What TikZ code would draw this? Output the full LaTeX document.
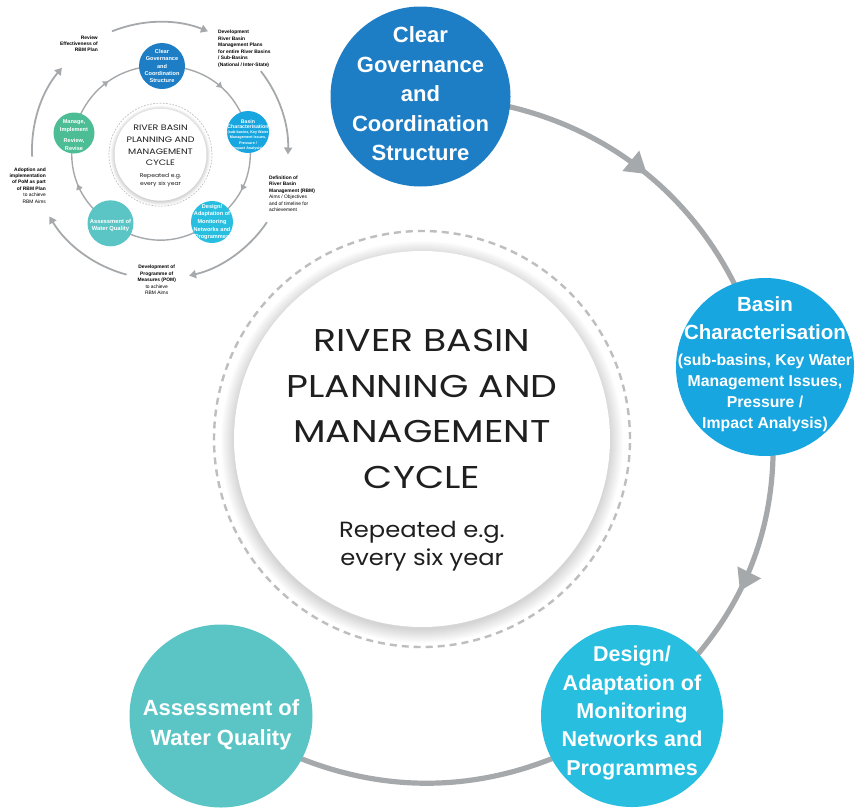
\documentclass[tikz,border=0pt]{standalone}
\usepackage{fontspec}
\setmainfont{Liberation Sans}
\newfontfamily\geofont[FakeStretch=1.2]{Poppins}
\newfontfamily\geosub[FakeStretch=1.1]{Poppins}
\usetikzlibrary{arrows.meta,decorations.markings}
\pgfdeclarelayer{bg}
\pgfdeclarelayer{arcs}
\pgfsetlayers{bg,arcs,main}
\definecolor{cClear}{HTML}{1E7EC5}
\definecolor{cBasin}{HTML}{17A6DF}
\definecolor{cDesign}{HTML}{27BEE0}
\definecolor{cAssess}{HTML}{5BC5C6}
\definecolor{cManage}{HTML}{4DBD96}
\definecolor{cArc}{HTML}{A6A9AC}
\definecolor{cDash}{HTML}{BDBEC0}
\definecolor{cInk}{HTML}{1F1F1F}
\tikzset{
  ball/.style={circle, inner sep=0pt, minimum size=#1, draw=none},
  balltext/.style={text=white, align=center, inner sep=0pt},
  bigarc/.style={draw=cArc, line width=5.2pt},
  smallarc/.style={draw=cArc, line width=1.8pt},
  innerarc/.style={draw=cArc, line width=1.4pt},
  bigmid/.style={postaction={decorate}, decoration={markings, mark=at position #1 with {\arrow{Triangle[length=21pt,width=25pt]}}}},
  smallmid/.style={postaction={decorate}, decoration={markings, mark=at position #1 with {\arrow{Triangle[length=5.5pt,width=6.5pt]}}}},
  outtip/.style={-{Triangle[length=7pt,width=8pt]}},
  lbl/.style={inner sep=0pt, text=black, font=\fontsize{4.9}{6.45}\selectfont},
  coretext/.style={inner sep=0pt, align=center, text=cInk},
}
\begin{document}
\begin{tikzpicture}[x=1pt,y=1pt]
\begin{pgfonlayer}{bg}
\fill[white] (0,0) rectangle (856,-809);
\end{pgfonlayer}
\useasboundingbox (0,0) rectangle (856,-809);

% ---------- big diagram ----------
\foreach \r in {188,189,...,201} \fill[black, opacity=0.013] (422,-442) circle[radius=\r];
\node[ball=376pt, fill=white] (core) at (422,-439) {};
\node[circle, inner sep=0pt, minimum size=416pt, draw=cDash, line width=2.4pt, dash pattern=on 7pt off 5pt] (ring) at (422,-439) {};
\node[coretext, font=\geofont\fontsize{31.5}{45.6}\selectfont] (title) at (422,-409) {RIVER BASIN\\PLANNING AND\\MANAGEMENT\\CYCLE};
\node[coretext, font=\geosub\fontsize{22}{28}\selectfont] (sub) at (422,-546) {Repeated e.g.\\every six year};

\node[ball=180pt, fill=cClear] (clear) at (420.5,-96.5) {};
\node[balltext, font=\bfseries\fontsize{22}{29.5}\selectfont] (clearT) at (420.5,-94) {Clear\\Governance\\and\\Coordination\\Structure};

\node[ball=178pt, fill=cBasin] (basin) at (765,-367) {};
\node[balltext, font=\bfseries\fontsize{20.5}{28}\selectfont] (basinT) at (765,-318) {Basin\\Characterisation};
\node[balltext, font=\bfseries\fontsize{15.8}{21}\selectfont] (basinS) at (765,-393) {(sub-basins, Key Water\\Management Issues,\\Pressure /\\Impact Analysis)};

\node[ball=182pt, fill=cDesign] (design) at (632,-716) {};
\node[balltext, font=\bfseries\fontsize{21.5}{28.3}\selectfont] (designT) at (632,-713) {Design/\\Adaptation of\\Monitoring\\Networks and\\Programmes};

\node[ball=183pt, fill=cAssess] (assess) at (221,-716) {};
\node[balltext, font=\bfseries\fontsize{22}{29.5}\selectfont] (assessT) at (221,-725) {Assessment of\\Water Quality};

\begin{pgfonlayer}{arcs}
\draw[bigarc, bigmid=0.515] (clear.center) to[bend left=38] (basin.center);
\draw[bigarc, bigmid=0.58] (basin.center) to[bend left=32] (design.center);
\draw[bigarc] (design.center) to[bend left=34] (assess.center);
\end{pgfonlayer}

% ---------- inset diagram ----------
\foreach \r in {46,46.5,...,50} \fill[black, opacity=0.02] (160.5,-155.6) circle[radius=\r];
\node[ball=92pt, fill=white] (score) at (160.5,-154.7) {};
\node[circle, inner sep=0pt, minimum size=103pt, draw=cDash, line width=0.7pt, dash pattern=on 1.8pt off 1.4pt] (sring) at (160.5,-154.7) {};
\node[coretext, font=\geofont\fontsize{7.9}{11.6}\selectfont] (stitle) at (160.5,-145.5) {RIVER BASIN\\PLANNING AND\\MANAGEMENT\\CYCLE};
\node[coretext, font=\geosub\fontsize{5.5}{7.8}\selectfont] (ssub) at (160.5,-180) {Repeated e.g.\\every six year};

\node[ball=46pt, fill=cClear] (sclear) at (162,-66) {};
\node[balltext, font=\bfseries\fontsize{5.6}{7.4}\selectfont] (sclearT) at (162,-66) {Clear\\Governance\\and\\Coordination\\Structure};

\node[ball=42pt, fill=cBasin] (sbasin) at (248,-132) {};
\node[balltext, font=\bfseries\fontsize{5.2}{5.2}\selectfont] (sbasinT) at (248,-124) {Basin\\Characterisation};
\node[balltext, font=\bfseries\fontsize{3.7}{5.2}\selectfont] (sbasinS) at (248,-140.5) {(sub-basins, Key Water\\Management Issues,\\Pressure /\\Impact Analysis)};

\node[ball=42pt, fill=cDesign] (sdesign) at (212,-222) {};
\node[balltext, font=\bfseries\fontsize{5.6}{7.6}\selectfont] (sdesignT) at (212,-222) {Design/\\Adaptation of\\Monitoring\\Networks and\\Programmes};

\node[ball=46pt, fill=cAssess] (sassess) at (110.5,-223.3) {};
\node[balltext, font=\bfseries\fontsize{5.8}{7.6}\selectfont] (sassessT) at (110.5,-225.5) {Assessment of\\Water Quality};

\node[ball=41pt, fill=cManage] (smanage) at (74,-133) {};
\node[balltext, font=\bfseries\fontsize{5.6}{7.3}\selectfont] (smanageT) at (74,-135) {Manage,\\Implement\\[4.4pt]Review,\\Revise};

\begin{pgfonlayer}{arcs}
\draw[innerarc, smallmid=0.56] (sclear.center) to[bend left=38] (sbasin.center);
\draw[innerarc, smallmid=0.58] (sbasin.center) to[bend left=34] (sdesign.center);
\draw[innerarc] (sdesign.center) to[bend left=36] (sassess.center);
\draw[innerarc, smallmid=0.5] (sassess.center) to[bend left=34] (smanage.center);
\draw[innerarc, smallmid=0.53] (smanage.center) to[bend left=39] (sclear.center);
\end{pgfonlayer}

% outer cycle arcs of the inset
\coordinate (oa1) at ([shift={(112:128)}]160,-150);
\coordinate (oa2) at ([shift={(38:128)}]160,-150);
\coordinate (oa3) at ([shift={(-34:129)}]160,-150);
\coordinate (oa4) at ([shift={(-105:129)}]160,-150);
\coordinate (oa5) at ([shift={(183:128)}]160,-150);
\draw[smallarc, outtip] (oa1) arc[start angle=112, end angle=68, radius=128];
\draw[smallarc, outtip] (oa2) arc[start angle=38, end angle=-2, radius=128];
\draw[smallarc, outtip] (oa3) arc[start angle=-34, end angle=-77, radius=129];
\draw[smallarc, outtip] (oa4) arc[start angle=-105, end angle=-149, radius=129];
\draw[smallarc, outtip] (oa5) arc[start angle=183, end angle=140, radius=128];

% outer labels of the inset
\node[lbl, align=right, anchor=north east] (l1) at (98,-35.3) {\bfseries Review\\\bfseries Effectiveness of\\\bfseries RBM Plan};
\node[lbl, align=left, anchor=north west] (l2) at (218,-30) {\bfseries Development\\\bfseries River Basin\\\bfseries Management Plans\\\bfseries for entire River Basins\\\bfseries / Sub-Basins\\\bfseries (National / Inter-State)};
\node[lbl, align=left, anchor=north west] (l3) at (269,-175.5) {\bfseries Definition of\\\bfseries River Basin\\\bfseries Management (RBM)\\Aims / Objectives\\and of timeline for\\achievement};
\node[lbl, align=center, anchor=north] (l4) at (156.7,-265) {\bfseries Development of\\\bfseries Programme of\\\bfseries Measures (POM)\\to achieve\\RBM Aims};
\node[lbl, align=right, anchor=north east] (l5) at (46,-167.3) {\bfseries Adoption and\\\bfseries implementation\\\bfseries of PoM as part\\\bfseries of RBM Plan\\to achieve\\RBM Aims};
\end{tikzpicture}
\end{document}
